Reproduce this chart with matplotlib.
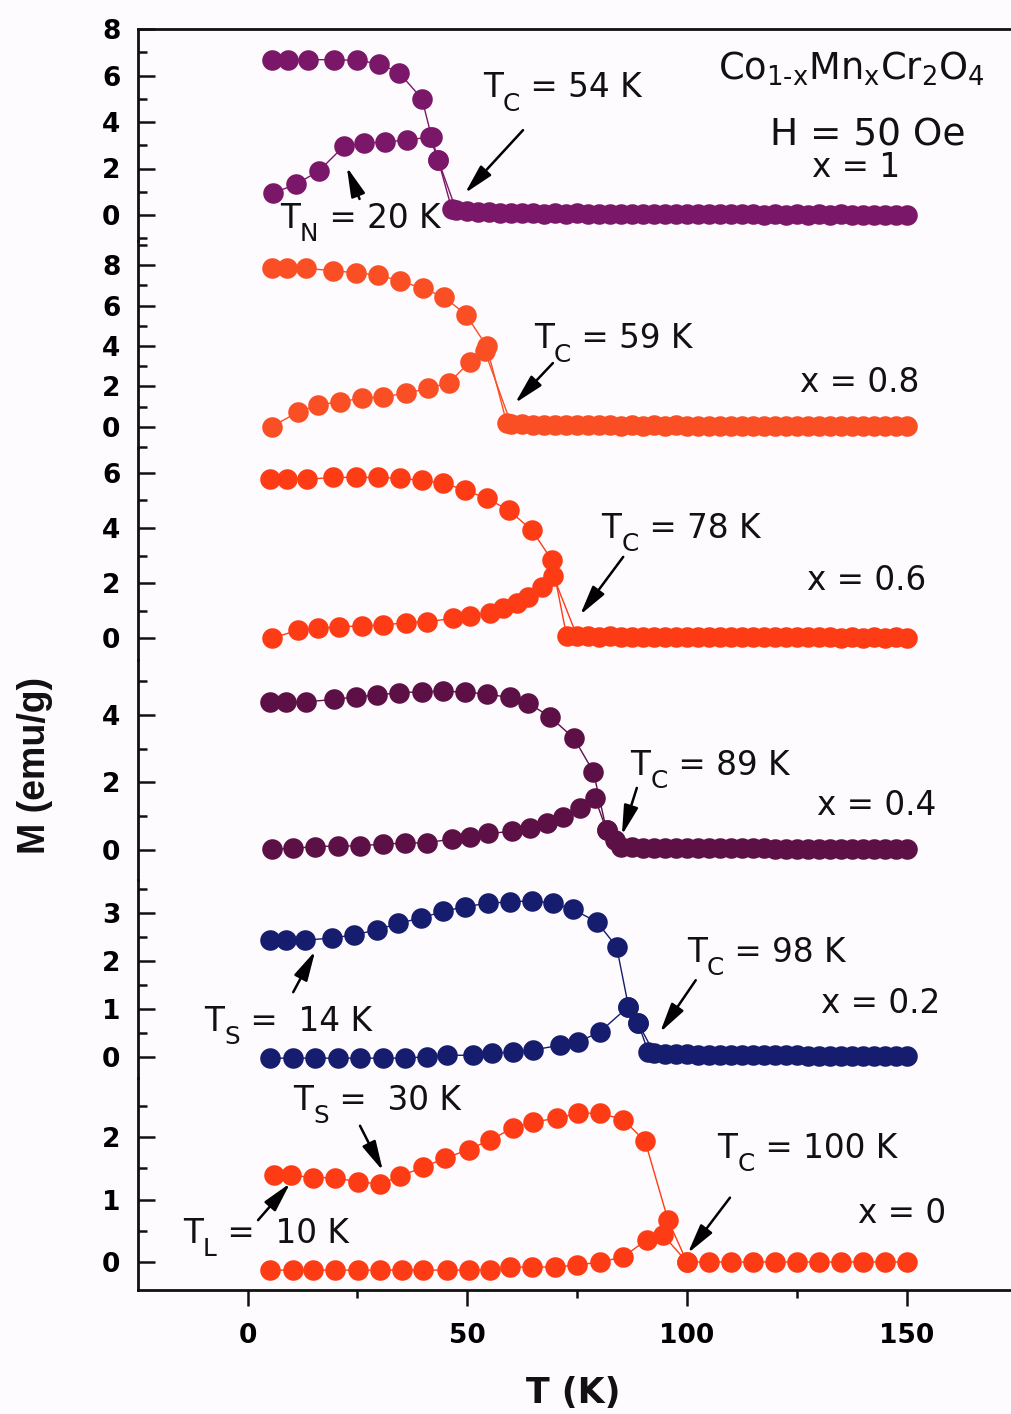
import matplotlib
matplotlib.use("Agg")
import matplotlib.pyplot as plt
from matplotlib.ticker import FixedLocator

plt.rcParams["font.family"] = ["DejaVu Sans"]
plt.rcParams["mathtext.default"] = "regular"

# ---------------- data: M(T) curves, field cooled (FC) and zero-field cooled (ZFC) ----------------
# x = 1
T_FC_1 = [5.6, 9.2, 13.8, 19.7, 24.9, 29.9, 34.5, 39.7, 41.9, 43.4, 46.5, 50, 55, 60, 65, 70, 75, 80, 85,
          90, 95, 100, 105, 110, 115, 120, 125, 130, 135, 140, 145, 150]
M_FC_1 = [6.68, 6.68, 6.68, 6.68, 6.65, 6.51, 6.12, 5.00, 3.35, 2.36, 0.25, 0.16, 0.12, 0.10, 0.09, 0.08,
          0.07, 0.06, 0.06, 0.05, 0.05, 0.05, 0.04, 0.04, 0.04, 0.03, 0.03, 0.03, 0.03, 0.02, 0.02, 0.02]
T_ZFC_1 = [5.7, 11.0, 16.3, 21.9, 26.4, 31.3, 36.4, 41.5, 43.4, 47.5, 52.5, 57.5, 62.5, 67.5, 72.5, 77.5,
           82.5, 87.5, 92.5, 97.5, 102.5, 107.5, 112.5, 117.5, 122.5, 127.5, 132.5, 137.5, 142.5, 147.5]
M_ZFC_1 = [0.93, 1.32, 1.90, 2.96, 3.08, 3.15, 3.22, 3.36, 2.36, 0.20, 0.11, 0.08, 0.07, 0.06, 0.05, 0.05,
           0.04, 0.04, 0.04, 0.03, 0.03, 0.03, 0.03, 0.02, 0.02, 0.02, 0.02, 0.02, 0.02, 0.02]

# x = 0.8
T_FC_2 = [5.5, 9.1, 13.3, 19.5, 24.7, 29.8, 34.7, 39.9, 44.8, 49.7, 54.4, 59.0, 62.5, 67.5, 72.5, 77.5,
          82.5, 87.5, 92.5, 97.5, 102.5, 107.5, 112.5, 117.5, 122.5, 127.5, 132.5, 137.5, 142.5, 147.5]
M_FC_2 = [7.84, 7.84, 7.84, 7.72, 7.62, 7.51, 7.21, 6.85, 6.41, 5.55, 4.00, 0.17, 0.12, 0.10, 0.09, 0.08,
          0.07, 0.07, 0.06, 0.06, 0.05, 0.05, 0.05, 0.04, 0.04, 0.04, 0.04, 0.03, 0.03, 0.03]
T_ZFC_2 = [5.5, 11.6, 16.0, 21.0, 26.0, 30.9, 36.1, 41.1, 45.9, 50.6, 54.0, 60, 65, 70, 75, 80, 85, 90,
           95, 100, 105, 110, 115, 120, 125, 130, 135, 140, 145, 150]
M_ZFC_2 = [0.00, 0.74, 1.07, 1.24, 1.40, 1.49, 1.65, 1.90, 2.18, 3.22, 3.75, 0.12, 0.09, 0.08, 0.07, 0.06,
           0.05, 0.05, 0.04, 0.04, 0.04, 0.03, 0.03, 0.03, 0.03, 0.03, 0.02, 0.02, 0.02, 0.02]

# x = 0.6
T_FC_3 = [5.1, 8.9, 13.5, 19.5, 24.7, 29.8, 34.7, 39.6, 44.6, 49.5, 54.4, 59.4, 64.7, 69.2, 72.6, 77.5,
          82.5, 87.5, 92.5, 97.5, 102.5, 107.5, 112.5, 117.5, 122.5, 127.5, 132.5, 137.5, 142.5, 147.5]
M_FC_3 = [5.76, 5.76, 5.76, 5.83, 5.83, 5.83, 5.80, 5.72, 5.62, 5.37, 5.07, 4.65, 3.92, 2.85, 0.10, 0.08,
          0.07, 0.06, 0.06, 0.05, 0.05, 0.05, 0.04, 0.04, 0.04, 0.04, 0.03, 0.03, 0.03, 0.03]
T_ZFC_3 = [5.5, 11.6, 16.1, 20.9, 26.0, 30.9, 36.1, 40.8, 46.8, 50.6, 55.2, 58.2, 61.3, 63.9, 67.0, 69.6,
           75, 80, 85, 90, 95, 100, 105, 110, 115, 120, 125, 130, 135, 140, 145, 150]
M_ZFC_3 = [0.00, 0.30, 0.36, 0.42, 0.45, 0.48, 0.57, 0.60, 0.72, 0.81, 0.93, 1.09, 1.27, 1.51, 1.87, 2.25,
           0.07, 0.06, 0.05, 0.05, 0.04, 0.04, 0.04, 0.03, 0.03, 0.03, 0.03, 0.03, 0.02, 0.02, 0.02, 0.02]

# x = 0.4
T_FC_4 = [5.1, 8.8, 13.3, 19.6, 24.7, 29.4, 34.5, 39.6, 44.6, 49.5, 54.4, 59.7, 63.9, 68.8, 74.3, 78.7,
          81.7, 83.6, 87.5, 92.5, 97.5, 102.5, 107.5, 112.5, 117.5, 122.5, 127.5, 132.5, 137.5, 142.5, 147.5]
M_FC_4 = [4.39, 4.39, 4.39, 4.46, 4.54, 4.59, 4.66, 4.69, 4.70, 4.68, 4.62, 4.52, 4.35, 3.95, 3.31, 2.32,
          0.59, 0.30, 0.08, 0.07, 0.06, 0.06, 0.05, 0.05, 0.05, 0.04, 0.04, 0.04, 0.04, 0.03, 0.03]
T_ZFC_4 = [5.5, 10.4, 15.4, 20.7, 25.6, 30.8, 35.8, 40.8, 46.5, 50.6, 54.8, 60.1, 64.3, 68.1, 71.9, 75.7,
           79.1, 81.7, 85, 90, 95, 100, 105, 110, 115, 120, 125, 130, 135, 140, 145, 150]
M_ZFC_4 = [0.02, 0.05, 0.10, 0.12, 0.12, 0.18, 0.20, 0.22, 0.32, 0.39, 0.49, 0.55, 0.64, 0.79, 0.99, 1.24,
           1.53, 0.59, 0.10, 0.07, 0.06, 0.06, 0.05, 0.05, 0.05, 0.04, 0.04, 0.04, 0.04, 0.03, 0.03, 0.03]

# x = 0.2
T_FC_5 = [5.1, 8.8, 13.1, 19.2, 24.2, 29.4, 34.3, 39.4, 44.6, 49.5, 54.8, 59.7, 64.7, 69.6, 74.1, 79.5,
          84.0, 86.7, 88.9, 91.2, 95, 100, 105, 110, 115, 120, 125, 130, 135, 140, 145, 150]
M_FC_5 = [2.44, 2.44, 2.44, 2.48, 2.55, 2.65, 2.79, 2.90, 3.04, 3.14, 3.21, 3.24, 3.26, 3.21, 3.08, 2.82,
          2.30, 1.05, 0.70, 0.10, 0.06, 0.05, 0.04, 0.04, 0.03, 0.03, 0.03, 0.02, 0.02, 0.02, 0.02, 0.02]
T_ZFC_5 = [5.1, 10.4, 15.4, 20.7, 25.6, 30.8, 35.8, 40.8, 45.3, 51.4, 55.6, 60.5, 65.0, 71.1, 75.3, 80.2,
           86.7, 88.9, 92.5, 97.5, 102.5, 107.5, 112.5, 117.5, 122.5, 127.5, 132.5, 137.5, 142.5, 147.5]
M_ZFC_5 = [-0.03, -0.03, -0.03, -0.03, -0.03, -0.03, -0.03, 0.00, 0.03, 0.03, 0.07, 0.10, 0.14, 0.24, 0.31,
           0.52, 1.05, 0.70, 0.08, 0.05, 0.04, 0.04, 0.03, 0.03, 0.03, 0.02, 0.02, 0.02, 0.02, 0.02]

# x = 0
T_FC_6 = [6.0, 10.0, 15.0, 19.9, 25.2, 30.1, 34.7, 40.0, 45.0, 50.3, 55.2, 60.5, 65.0, 70.4, 75.3, 80.2,
          85.5, 90.5, 95.7, 100, 105, 110, 115, 120, 125, 130, 135, 140, 145, 150]
M_FC_6 = [1.39, 1.39, 1.35, 1.35, 1.28, 1.25, 1.37, 1.52, 1.66, 1.80, 1.95, 2.15, 2.24, 2.30, 2.38, 2.38,
          2.28, 1.93, 0.67, 0.00, 0.00, 0.00, 0.00, 0.00, 0.00, 0.00, 0.00, 0.00, 0.00, 0.00]
T_ZFC_6 = [5.1, 10.3, 15.0, 19.9, 25.2, 30.1, 35.1, 40.0, 45.3, 50.3, 55.2, 59.7, 64.7, 70.0, 74.9, 80.2,
           85.5, 90.9, 94.6, 100]
M_ZFC_6 = [-0.13, -0.13, -0.13, -0.13, -0.13, -0.13, -0.13, -0.13, -0.13, -0.13, -0.13, -0.08, -0.08,
           -0.08, -0.05, 0.00, 0.08, 0.36, 0.43, 0.00]

X_TICKS = [0, 50, 100, 150]
X_MINOR = [25, 75, 125]

# ---------------- layout ----------------
W, H = 1011, 1414
fig = plt.figure(figsize=(W / 100, H / 100), dpi=100)
fig.patch.set_facecolor("#fdfbfd")

XL, XR = 137.65, 1016.5        # pixel edges of the T axis
TMIN, TMAX = -25, 175

# each panel: top px, bottom px, px of M = 0, px per unit of M
panels = [
    dict(T_fc=T_FC_1, M_fc=M_FC_1, T_zfc=T_ZFC_1, M_zfc=M_ZFC_1, color="#7b1768",
         geom=(29, 241, 215, 23.25), major=[0, 2, 4, 6, 8], minor=[-1, 1, 3, 5, 7]),
    dict(T_fc=T_FC_2, M_fc=M_FC_2, T_zfc=T_ZFC_2, M_zfc=M_ZFC_2, color="#fa4e25",
         geom=(241, 448, 426.7, 20.2), major=[0, 2, 4, 6, 8], minor=[-1, 1, 3, 5, 7, 9]),
    dict(T_fc=T_FC_3, M_fc=M_FC_3, T_zfc=T_ZFC_3, M_zfc=M_ZFC_3, color="#fd3c15",
         geom=(448, 660, 638.3, 27.6), major=[0, 2, 4, 6], minor=[1, 3, 5]),
    dict(T_fc=T_FC_4, M_fc=M_FC_4, T_zfc=T_ZFC_4, M_zfc=M_ZFC_4, color="#5c1046",
         geom=(660, 880, 850, 33.75), major=[0, 2, 4], minor=[1, 3, 5]),
    dict(T_fc=T_FC_5, M_fc=M_FC_5, T_zfc=T_ZFC_5, M_zfc=M_ZFC_5, color="#161c6e",
         geom=(880, 1078, 1056.7, 47.8), major=[0, 1, 2, 3], minor=[0.5, 1.5, 2.5, 3.5]),
    dict(T_fc=T_FC_6, M_fc=M_FC_6, T_zfc=T_ZFC_6, M_zfc=M_ZFC_6, color="#fd3c15",
         geom=(1078, 1290, 1262, 62.5), major=[0, 1, 2], minor=[0.5, 1.5, 2.5]),
]

TICK_FONT = dict(family="DejaVu Sans", weight="bold", size=19)
ANN_SIZE = 23.5
ANN = dict(family="DejaVu Sans", size=ANN_SIZE, color="#111111")
ARROW = dict(arrowstyle="-|>,head_length=0.9,head_width=0.22", lw=1.8, color="black",
             shrinkA=0, shrinkB=0, mutation_scale=20)

axes = []
for i, p in enumerate(panels):
    top, bot, zero, scale = p["geom"]
    ax = fig.add_axes([XL / W, 1 - bot / H, (XR - XL) / W, (bot - top) / H])
    ax.set_facecolor("none")
    ax.set_xlim(TMIN, TMAX)
    ax.set_ylim((zero - bot) / scale, (zero - top) / scale)

    for T, M in ((p["T_zfc"], p["M_zfc"]), (p["T_fc"], p["M_fc"])):
        ax.plot(T, M, "-o", color=p["color"], lw=1.0, ms=14.8, mew=0, clip_on=False, zorder=3)

    for s in ax.spines.values():
        s.set_linewidth(2.0)
        s.set_color("#111111")
    ax.spines["right"].set_visible(False)
    ax.spines["top"].set_visible(i == 0)
    ax.spines["bottom"].set_visible(i == len(panels) - 1)

    ax.yaxis.set_major_locator(FixedLocator(p["major"]))
    ax.yaxis.set_minor_locator(FixedLocator(p["minor"]))
    ax.tick_params(axis="y", which="major", direction="in", length=12, width=1.8, pad=12.5,
                   color="#111111")
    ax.tick_params(axis="y", which="minor", direction="in", length=6.5, width=1.8, color="#111111")
    ax.set_yticklabels([f"{v:g}" for v in p["major"]], fontdict=TICK_FONT)

    if i == len(panels) - 1:
        ax.xaxis.set_major_locator(FixedLocator(X_TICKS))
        ax.xaxis.set_minor_locator(FixedLocator(X_MINOR))
        ax.tick_params(axis="x", which="major", direction="out", length=11.5, width=1.8, pad=12,
                       color="#111111")
        ax.tick_params(axis="x", which="minor", direction="out", length=6, width=1.8, color="#111111")
        ax.set_xticklabels([str(v) for v in X_TICKS], fontdict=TICK_FONT)
    else:
        ax.tick_params(axis="x", which="both", bottom=False, labelbottom=False)
    axes.append(ax)

ax1, ax2, ax3, ax4, ax5, ax6 = axes

# ---------------- annotations ----------------
# advance widths (em) of the DejaVu Sans capitals used before a subscript
ADV = {"T": 0.611, "C": 0.698, "N": 0.748, "S": 0.635, "L": 0.557}
SUB_SCALE = 0.76


def note(ax, x, y, s, **kw):
    style = dict(ANN)
    style.update(kw)
    ax.text(x, y, s, ha="left", va="baseline", zorder=5, **style)


def temp_label(ax, x, y, sub, rest):
    """'T' with a dropped subscript, followed by the rest of the label."""
    ax.annotate("T", xy=(x, y), xytext=(0, 0), textcoords="offset points",
                ha="left", va="baseline", zorder=5, **ANN)
    dx_sub = ADV["T"] * ANN_SIZE
    sub_size = ANN_SIZE * SUB_SCALE
    ax.annotate(sub, xy=(x, y), xytext=(dx_sub, -9.5), textcoords="offset points",
                ha="left", va="baseline", zorder=5,
                family="DejaVu Sans", size=sub_size, color="#111111")
    dx_rest = dx_sub + ADV[sub] * sub_size
    ax.annotate(rest, xy=(x, y), xytext=(dx_rest, 0), textcoords="offset points",
                ha="left", va="baseline", zorder=5, **ANN)


def arrow(ax, tail, tip):
    ax.annotate("", xy=tip, xytext=tail, arrowprops=ARROW, zorder=5)


# x = 1
temp_label(ax1, 53.6, 5.06, "C", " = 54 K")
arrow(ax1, (62.7, 3.65), (49.5, 0.94))
temp_label(ax1, 7.4, -0.56, "N", " = 20 K")
arrow(ax1, (25.5, 0.69), (22.6, 2.06))
note(ax1, 107.1, 5.84, "Co$_{1\u2010x}$Mn$_x$Cr$_2$O$_4$", size=26.5)
note(ax1, 118.9, 3.0, "H = 50 Oe", size=27)
note(ax1, 128.5, 1.63, "x = 1")

# x = 0.8
temp_label(ax2, 65.2, 3.88, "C", " = 59 K")
arrow(ax2, (69.5, 3.15), (60.9, 1.17))
note(ax2, 125.7, 1.70, "x = 0.8")

# x = 0.6
temp_label(ax3, 80.5, 3.65, "C", " = 78 K")
arrow(ax3, (85.5, 2.95), (75.7, 0.85))
note(ax3, 127.3, 1.75, "x = 0.6")

# x = 0.4
temp_label(ax4, 87.1, 2.22, "C", " = 89 K")
arrow(ax4, (88.6, 1.84), (85.2, 0.44))
note(ax4, 129.6, 1.04, "x = 0.4")

# x = 0.2
temp_label(ax5, 100.0, 1.98, "C", " = 98 K")
arrow(ax5, (102.0, 1.60), (93.9, 0.51))
note(ax5, 130.4, 0.91, "x = 0.2")
temp_label(ax5, -9.9, 0.54, "S", " =  14 K")
arrow(ax5, (10.4, 1.35), (15.4, 2.21))

# x = 0
temp_label(ax6, 10.4, 2.43, "S", " =  30 K")
arrow(ax6, (25.6, 2.18), (30.8, 1.46))
temp_label(ax6, -14.7, 0.30, "L", " =  10 K")
arrow(ax6, (2.4, 0.67), (9.7, 1.26))
temp_label(ax6, 106.9, 1.67, "C", " = 100 K")
arrow(ax6, (109.8, 1.03), (100.2, 0.14))
note(ax6, 139.0, 0.63, "x = 0")

# axis titles
fig.text(573.5 / W, 1 - 1393 / H, "T (K)", ha="center", va="center",
         family="DejaVu Sans", weight="bold", size=25, color="#111111")
fig.text(35 / W, 1 - 765 / H, "M (emu/g)", ha="center", va="center", rotation=90,
         family="Liberation Sans", weight="bold", size=27, color="#111111")

fig.savefig("out.png", dpi=100, facecolor=fig.get_facecolor())
